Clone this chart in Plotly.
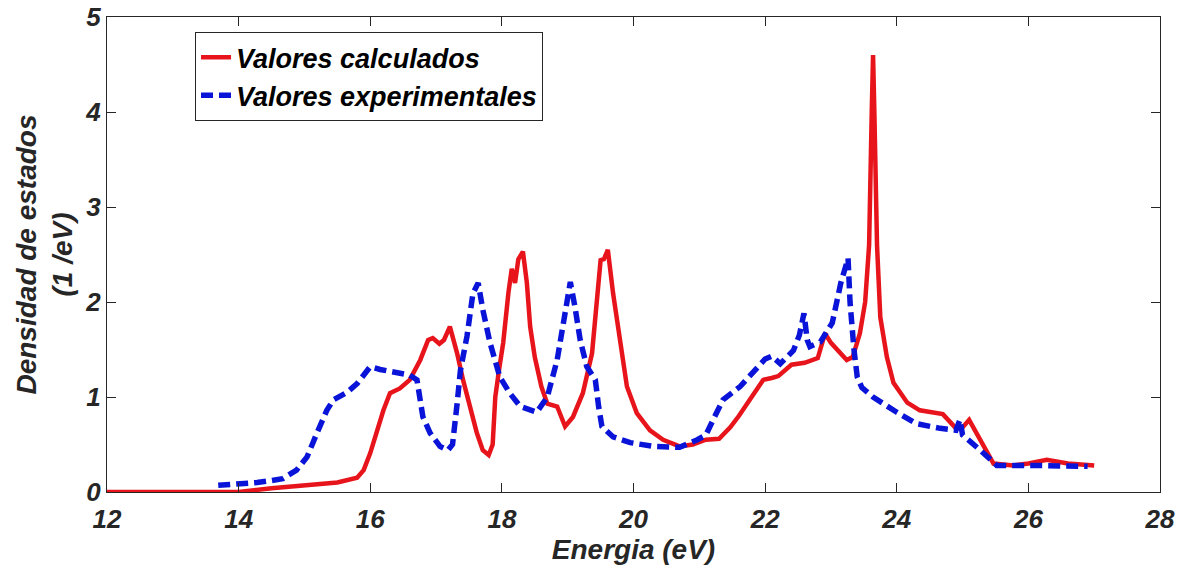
import plotly.graph_objects as go

red_x = [12, 13, 14, 14.5, 15, 15.5, 15.8, 15.9, 16.0, 16.1, 16.2, 16.3, 16.45, 16.6, 16.76, 16.88, 16.95, 17.05, 17.12, 17.21, 17.32, 17.41, 17.52, 17.62, 17.71, 17.8, 17.86, 17.9, 17.96, 18.02, 18.1, 18.15, 18.2, 18.25, 18.32, 18.38, 18.43, 18.5, 18.6, 18.69, 18.84, 18.96, 19.08, 19.23, 19.37, 19.45, 19.5, 19.55, 19.61, 19.69, 19.77, 19.9, 20.05, 20.25, 20.45, 20.7, 20.9, 21.1, 21.3, 21.47, 21.6, 21.73, 21.85, 21.97, 22.1, 22.2, 22.4, 22.6, 22.8, 22.91, 23.0, 23.14, 23.24, 23.33, 23.44, 23.52, 23.58, 23.62, 23.64, 23.66, 23.7, 23.75, 23.85, 23.95, 24.16, 24.35, 24.55, 24.7, 24.9, 25.0, 25.1, 25.27, 25.47, 25.77, 26.0, 26.28, 26.6, 27.0]
red_y = [0, 0, 0, 0.04, 0.07, 0.1, 0.15, 0.23, 0.41, 0.65, 0.86, 1.04, 1.09, 1.18, 1.39, 1.6, 1.62, 1.56, 1.6, 1.74, 1.46, 1.18, 0.86, 0.62, 0.44, 0.39, 0.5, 1.0, 1.3, 1.57, 2.1, 2.35, 2.2, 2.45, 2.53, 2.2, 1.74, 1.42, 1.11, 0.93, 0.9, 0.69, 0.79, 1.04, 1.46, 2.02, 2.44, 2.45, 2.55, 2.09, 1.74, 1.11, 0.83, 0.65, 0.55, 0.48, 0.5, 0.55, 0.56, 0.68, 0.8, 0.93, 1.05, 1.18, 1.2, 1.22, 1.34, 1.36, 1.41, 1.67, 1.57, 1.46, 1.39, 1.42, 1.67, 2.0, 2.6, 4.0, 4.6, 4.0, 2.6, 1.84, 1.42, 1.15, 0.94, 0.86, 0.84, 0.82, 0.67, 0.68, 0.76, 0.55, 0.3, 0.28, 0.3, 0.34, 0.3, 0.28]

blue_x = [13.69, 14.0, 14.28, 14.5, 14.67, 14.88, 15.04, 15.19, 15.34, 15.44, 15.65, 15.8, 15.9, 16.0, 16.15, 16.3, 16.45, 16.6, 16.71, 16.76, 16.8, 16.91, 17.06, 17.18, 17.25, 17.32, 17.37, 17.47, 17.56, 17.64, 17.71, 17.82, 17.97, 18.12, 18.28, 18.53, 18.69, 18.84, 18.96, 19.04, 19.11, 19.19, 19.29, 19.42, 19.47, 19.52, 19.69, 19.95, 20.3, 20.7, 20.97, 21.1, 21.21, 21.36, 21.62, 21.82, 22.0, 22.1, 22.23, 22.43, 22.52, 22.59, 22.64, 22.68, 22.84, 23.02, 23.15, 23.26, 23.29, 23.35, 23.4, 23.47, 23.64, 24.0, 24.3, 24.66, 24.9, 24.96, 25.0, 25.27, 25.52, 26.0, 26.5, 26.9]
blue_y = [0.07, 0.08, 0.1, 0.12, 0.14, 0.23, 0.37, 0.62, 0.86, 0.97, 1.05, 1.14, 1.22, 1.32, 1.29, 1.27, 1.25, 1.23, 1.18, 1.0, 0.79, 0.62, 0.48, 0.44, 0.5, 0.93, 1.28, 1.64, 2.09, 2.2, 1.92, 1.57, 1.21, 1.04, 0.9, 0.84, 1.0, 1.39, 1.92, 2.21, 1.95, 1.6, 1.32, 1.18, 0.9, 0.69, 0.58, 0.52, 0.48, 0.47, 0.55, 0.6, 0.76, 0.97, 1.11, 1.27, 1.4, 1.43, 1.35, 1.49, 1.65, 1.88, 1.6, 1.53, 1.58, 1.78, 2.2, 2.46, 2.0, 1.5, 1.21, 1.1, 1.0, 0.84, 0.72, 0.67, 0.65, 0.76, 0.6, 0.44, 0.28, 0.28, 0.27, 0.27]

x_ticks = [12, 14, 16, 18, 20, 22, 24, 26, 28]
y_ticks = [0, 1, 2, 3, 4, 5]

FONT = "Liberation Sans, Arial, sans-serif"
AX = "#262626"

fig = go.Figure()
fig.add_trace(go.Scatter(x=red_x, y=red_y, mode="lines", name="Valores calculados",
                         line=dict(color="#e8141b", width=4.5)))
fig.add_trace(go.Scatter(x=blue_x, y=blue_y, mode="lines", name="Valores experimentales",
                         line=dict(color="#0a14d8", width=5.5, dash="12px,6px")))

axis_common = dict(showline=True, linecolor=AX, linewidth=1, mirror="ticks", ticks="inside",
                   ticklen=9, tickcolor=AX, showgrid=False, zeroline=False, automargin=False,
                   tickfont=dict(family=FONT, size=26, color=AX, style="italic", weight="bold"))

fig.update_xaxes(range=[12, 28], tickvals=x_ticks, ticktext=[str(v) for v in x_ticks],
                 ticklabelstandoff=4,
                 title=dict(text="Energia (eV)", standoff=6,
                            font=dict(family=FONT, size=28, color=AX, style="italic", weight="bold")),
                 **axis_common)
fig.update_yaxes(range=[0, 5], tickvals=y_ticks, ticktext=[str(v) for v in y_ticks],
                 title=dict(text="Densidad de estados<br>(1 /eV)", standoff=4,
                            font=dict(family=FONT, size=28, color=AX, style="italic", weight="bold")),
                 **axis_common)

fig.update_layout(
    width=1186, height=573,
    margin=dict(l=107, r=26, t=17, b=81),
    paper_bgcolor="white", plot_bgcolor="white",
    showlegend=True,
    legend=dict(x=0.0836, y=0.968, xanchor="left", yanchor="top",
                bgcolor="white", bordercolor="#262626", borderwidth=1,
                font=dict(family=FONT, size=27, color="black", style="italic", weight="bold"),
                itemwidth=30, tracegroupgap=0),
)

fig.write_html("out.html")
